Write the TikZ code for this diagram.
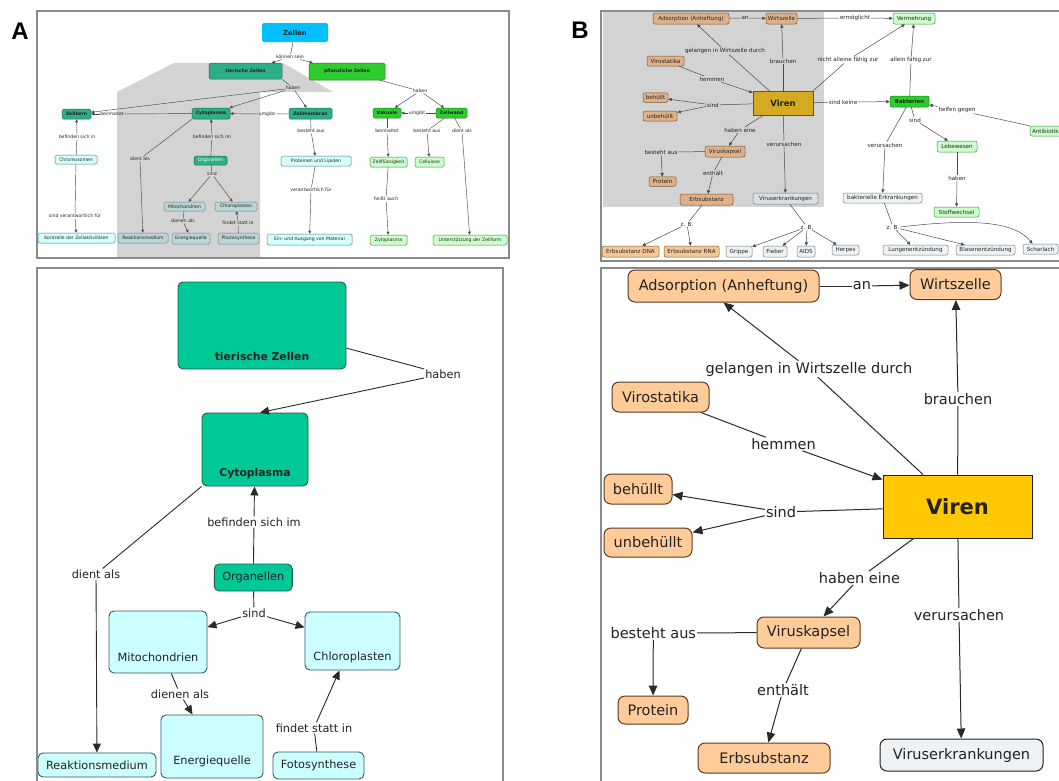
\documentclass[tikz,border=0pt]{standalone}
\usepackage{fontspec}
\setmainfont{DejaVu Sans}
\newfontfamily\panelfont{Liberation Sans}
\usetikzlibrary{arrows.meta}

% font sizes for the four maps
\newcommand\fA{\fontsize{4.6}{5.4}\selectfont}
\newcommand\fB{\fontsize{5.6}{6.6}\selectfont}
\newcommand\fC{\fontsize{11.3}{13.5}\selectfont}
\newcommand\fD{\fontsize{14.5}{17}\selectfont}

\definecolor{frame}{HTML}{8A8A8A}
\definecolor{greyzone}{HTML}{D3D3D3}
\definecolor{linkA}{HTML}{4A4A4A}
\definecolor{linkB}{HTML}{2A2A2A}
\definecolor{sky}{HTML}{00BFFF}
\definecolor{tealA}{HTML}{2EAE87}
\definecolor{tealAd}{HTML}{1E6A54}
\definecolor{greenA}{HTML}{2FCC2F}
\definecolor{greenAd}{HTML}{1C7A1C}
\definecolor{cyanA}{HTML}{D8FFFF}
\definecolor{cyanAd}{HTML}{3F8585}
\definecolor{cyanG}{HTML}{BCD4D5}
\definecolor{cyanGd}{HTML}{6A8888}
\definecolor{mintA}{HTML}{CCFFCC}
\definecolor{mintAd}{HTML}{3E8E3E}
\definecolor{tanG}{HTML}{DDB28B}
\definecolor{tanW}{HTML}{F7C797}
\definecolor{tanD}{HTML}{7A5232}
\definecolor{goldG}{HTML}{D6AA20}
\definecolor{goldGd}{HTML}{6E5612}
\definecolor{mist}{HTML}{EEF2F4}
\definecolor{mistG}{HTML}{D9DFE2}
\definecolor{mistD}{HTML}{6E7E86}
\definecolor{tealB}{HTML}{00C896}
\definecolor{tealBd}{HTML}{245A48}
\definecolor{cyanB}{HTML}{CCFFFF}
\definecolor{cyanBd}{HTML}{34595A}
\definecolor{peach}{HTML}{FFCC99}
\definecolor{peachD}{HTML}{5A3A22}
\definecolor{gold}{HTML}{FFC800}
\definecolor{ink}{HTML}{222222}

\tikzset{
  sz/.style 2 args={minimum width=#1pt, minimum height=#2pt},
  panel/.style={draw=frame, line width=1.3pt},
  % small map, cells
  cA/.style={inner sep=0pt, rounded corners=1.6pt, line width=0.5pt, font=\fA, text=ink},
  tA/.style={cA, fill=tealA, draw=tealAd, font=\fA\bfseries},
  gA/.style={cA, fill=greenA, draw=greenAd, font=\fA\bfseries},
  qA/.style={cA, fill=cyanA, draw=cyanAd},
  qG/.style={cA, fill=cyanG, draw=cyanGd},
  mA/.style={cA, fill=mintA, draw=mintAd},
  lA/.style={font=\fA, text=ink, inner sep=0.6pt},
  eA/.style={draw=linkA, line width=0.45pt},
  aA/.style={eA, -{Triangle[length=3pt,width=2.8pt]}},
  % small map, viruses
  cB/.style={inner sep=0pt, rounded corners=2pt, line width=0.5pt, font=\fB, text=ink},
  oG/.style={cB, fill=tanG, draw=tanD},
  oW/.style={cB, fill=tanW, draw=tanD},
  vG/.style={cB, fill=goldG, draw=goldGd, sharp corners, font=\fontsize{8.5}{10}\selectfont\bfseries},
  gB/.style={cB, fill=greenA, draw=greenAd, font=\fontsize{5.3}{6.3}\selectfont\bfseries},
  mB/.style={cB, fill=mintA, draw=mintAd},
  sG/.style={cB, fill=mistG, draw=mistD},
  sW/.style={cB, fill=mist, draw=mistD},
  lB/.style={font=\fB, text=ink, inner sep=0.7pt},
  eB/.style={draw=linkA, line width=0.5pt},
  aB/.style={eB, -{Triangle[length=3.4pt,width=3.2pt]}},
  % large map, cells
  cC/.style={inner sep=3pt, rounded corners=5pt, line width=0.9pt, font=\fC, text=ink},
  tC/.style={cC, fill=tealB, draw=tealBd},
  qC/.style={cC, fill=cyanB, draw=cyanBd},
  lC/.style={font=\fC, text=ink, inner sep=1pt},
  eC/.style={draw=linkB, line width=0.9pt},
  aC/.style={eC, -{Triangle[length=9pt,width=8pt]}},
  % large map, viruses
  cD/.style={inner sep=2pt, rounded corners=7pt, line width=1pt, font=\fD, text=ink},
  oD/.style={cD, fill=peach, draw=peachD},
  vD/.style={cD, fill=gold, draw=ink, sharp corners, font=\fontsize{21}{25}\selectfont\bfseries},
  sD/.style={cD, fill=mist, draw=ink},
  lD/.style={font=\fD, text=ink, inner sep=1pt},
  eD/.style={draw=linkB, line width=1pt},
  aD/.style={eD, -{Triangle[length=10pt,width=8.5pt]}},
}

\begin{document}
\begin{tikzpicture}[x=1pt,y=-1pt]
\useasboundingbox (0,0) rectangle (1059,780);
\clip (0,0) rectangle (1059,780);
\fill[white] (0,0) rectangle (1059,780);

% panel letters
\node[font=\panelfont\bfseries\fontsize{24}{28}\selectfont] (letA) at (20,31) {A};
\node[font=\panelfont\bfseries\fontsize{24}{28}\selectfont] (letB) at (580,30) {B};

% grey background zones
\fill[greyzone] (117,258) -- (117,92) -- (174,63) -- (283,63) -- (333,92) -- (260,92) -- (260,258) -- cycle;
\fill[greyzone] (603,11) rectangle (824,207);

%================ cells, overview =================
\node[cA, fill=sky, draw=none, font=\fontsize{6.8}{8}\selectfont\bfseries, sz={66}{19}] (zellen) at (295,32.5) {Zellen};
\node[tA, sz={73}{16}] (tier) at (245.5,71) {tierische Zellen};
\node[gA, sz={76}{17}] (pfl) at (347,71.5) {pflanzliche Zellen};
\node[tA, sz={29}{10}] (zkern) at (76.5,114) {Zellkern};
\node[tA, sz={38}{11}] (cyto) at (211,113.5) {Cytoplasma};
\node[tA, sz={43}{11}] (zmem) at (310.5,113.5) {Zellmembran};
\node[gA, sz={28}{10}] (vak) at (387,113) {Vakuole};
\node[gA, sz={31}{10}] (zwand) at (451.5,113) {Zellwand};
\node[qA, sz={42}{9}] (chromo) at (76,159.5) {Chromosomen};
\node[tA, font=\fA, text=white, sz={33}{9}] (organ) at (210.5,160.5) {Organellen};
\node[qA, sz={70}{10}] (prot) at (316,161) {Proteinen und Lipiden};
\node[mA, sz={37}{10}] (zfl) at (388.5,162) {Zellflüssigkeit};
\node[mA, sz={29}{10}] (cell) at (429.5,162) {Cellulose};
\node[qG, sz={41}{9}] (mito) at (184.5,206.5) {Mitochondrien};
\node[qG, sz={42}{9}] (chloro) at (236,206.5) {Chloroplasten};
\node[qA, sz={77}{10}] (kontr) at (76.5,238) {Kontrolle der Zellaktivitäten};
\node[qG, sz={50}{10}] (reakt) at (143,238) {Reaktionsmedium};
\node[qG, sz={38}{11}] (energ) at (191,238.5) {Energiequelle};
\node[qG, sz={41}{11}] (photo) at (238.5,238.5) {Photosynthese};
\node[qA, sz={85}{11}] (einaus) at (309.5,239.5) {Ein- und Ausgang von Material};
\node[mA, sz={37}{10}] (zyto) at (388.5,240) {Zytoplasma};
\node[mA, sz={74}{10}] (unterst) at (470,240) {Unterstützung der Zellform};

\node[lA] (ks) at (290,57) {können sein};
\node[lA] (hab1) at (293,88) {haben};
\node[lA] (beinh1) at (112,114) {beinhaltet};
\node[lA] (umg1) at (267,114) {umgibt};
\node[lA] (hab2) at (420,91) {haben};
\node[lA] (umg2) at (417,113) {umgibt};
\node[lA] (bsi) at (77,137) {befinden sich in};
\node[lA] (bsim) at (212,137) {befinden sich im};
\node[lA] (best1) at (311,131) {besteht aus};
\node[lA] (beinh2) at (387,131) {beinhaltet};
\node[lA] (best2) at (427,131) {besteht aus};
\node[lA] (dient2) at (462,131) {dient als};
\node[lA] (dient1) at (140,159) {dient als};
\node[lA] (sind1) at (212,174) {sind};
\node[lA] (verantw) at (75,216) {sind verantwortlich für};
\node[lA] (dienen1) at (183,221) {dienen als};
\node[lA] (findet1) at (238,223) {findet statt in};
\node[lA] (verantw2) at (311,190) {verantwortlich für};
\node[lA] (heisst) at (386,199) {heißt auch};

\draw[eA] (zellen) -- (ks);
\draw[aA] (ks) -- (tier);
\draw[aA] (ks) -- (pfl);
\draw[eA] (tier.south east) -- (hab1);
\draw[aA] (hab1) -- (zkern);
\draw[aA] (hab1) -- (cyto);
\draw[aA] (hab1) -- (zmem);
\draw[eA] (cyto) -- (beinh1);
\draw[aA] (beinh1) -- (zkern);
\draw[eA] (zmem) -- (umg1);
\draw[aA] (umg1) -- (cyto);
\draw[eA] (chromo) -- (bsi);
\draw[aA] (bsi) -- (zkern);
\draw[eA] (chromo) -- (verantw);
\draw[aA] (verantw) -- (kontr);
\draw[eA] (organ) -- (bsim);
\draw[aA] (bsim) -- (cyto);
\draw[eA] (cyto.south west) -- (dient1);
\draw[aA] (dient1) -- (reakt);
\draw[eA] (organ) -- (sind1);
\draw[aA] (sind1) -- (mito);
\draw[aA] (sind1) -- (chloro);
\draw[eA] (mito) -- (dienen1);
\draw[aA] (dienen1) -- (energ);
\draw[eA] (photo) -- (findet1);
\draw[aA] (findet1) -- (chloro);
\draw[eA] (zmem) -- (best1);
\draw[aA] (best1) -- (prot);
\draw[eA] (prot) -- (verantw2);
\draw[aA] (verantw2) -- (einaus);
\draw[eA] (pfl) -- (hab2);
\draw[aA] (hab2) -- (vak);
\draw[aA] (hab2) -- (zwand);
\draw[eA] (zwand) -- (umg2);
\draw[aA] (umg2) -- (vak);
\draw[eA] (vak) -- (beinh2);
\draw[aA] (beinh2) -- (zfl);
\draw[eA] (zfl) -- (heisst);
\draw[aA] (heisst) -- (zyto);
\draw[eA] (zwand) -- (best2);
\draw[aA] (best2) -- (cell);
\draw[eA] (zwand) -- (dient2);
\draw[aA] (dient2) -- (unterst);

%================ viruses, overview =================
\node[oG, sz={76}{11}] (adsT) at (691,18.5) {Adsorption (Anheftung)};
\node[oG, sz={31}{11}] (wirtT) at (781.5,18.5) {Wirtszelle};
\node[mB, sz={42}{11}] (vermT) at (914,18.5) {Vermehrung};
\node[oG, sz={37}{10}] (virostT) at (665.5,61) {Virostatika};
\node[vG, sz={60}{24}] (virenT) at (783,103) {Viren};
\node[gB, sz={39}{11}] (bakT) at (909.5,101.5) {Bakterien};
\node[mB, sz={48}{10}, text width=44pt, align=left] (antiT) at (1054,131) {Antibiotika};
\node[oG, sz={25}{9.5}] (behT) at (655.5,97.5) {behüllt};
\node[oG, sz={34}{10}] (unbehT) at (660,116) {unbehüllt};
\node[oG, sz={40}{11}] (kapselT) at (725,151.5) {Viruskapsel};
\node[oG, sz={27}{9.5}] (proteinT) at (662.5,181.5) {Protein};
\node[oG, sz={53}{11}] (erbT) at (706.5,199.5) {Erbsubstanz};
\node[sG, sz={65}{11}] (vkrankT) at (785.5,198.5) {Viruserkrankungen};
\node[mB, sz={40}{11}] (lebT) at (957,146.5) {Lebewesen};
\node[mB, sz={45}{10}] (stoffT) at (956.5,212) {Stoffwechsel};
\node[sW, sz={79}{10}] (bakErkT) at (882.5,198) {bakterielle Erkrankungen};
\node[oW, sz={57}{11}] (dnaT) at (630.5,251.5) {Erbsubstanz DNA};
\node[oW, sz={55}{11}] (rnaT) at (691.5,251.5) {Erbsubstanz RNA};
\node[sW, sz={26}{11}] (grippeT) at (739,251.5) {Grippe};
\node[sW, sz={24}{11}] (fieberT) at (775,251.5) {Fieber};
\node[sW, sz={18}{11}] (aidsT) at (806,251.5) {AIDS};
\node[sW, sz={27}{10}] (herpesT) at (845.5,250) {Herpes};
\node[sW, sz={65}{10}] (lungeT) at (915.5,250) {Lungenentzündung};
\node[sW, sz={59}{10}] (blaseT) at (985.5,250) {Blasenentzündung};
\node[sW, sz={35}{10}] (scharT) at (1040.5,249) {Scharlach};

\node[lB] (anT) at (745,18) {an};
\node[lB] (ermT) at (855,18) {ermöglicht};
\node[lB] (gelT) at (725,51) {gelangen in Wirtszelle durch};
\node[lB] (brauchT) at (783,61) {brauchen};
\node[lB] (nichtT) at (848,60) {nicht alleine fähig zur};
\node[lB] (alleinT) at (911,60) {allein fähig zur};
\node[lB] (hemmT) at (712,79) {hemmen};
\node[lB] (keineT) at (843,102) {sind keine};
\node[lB] (helfT) at (957,110) {helfen gegen};
\node[lB] (sindT) at (713,105) {sind};
\node[lB] (habeT) at (740,130) {haben eine};
\node[lB] (verT) at (784,144) {verursachen};
\node[lB] (bestT) at (661,152) {besteht aus};
\node[lB] (enthT) at (713,173) {enthält};
\node[lB] (zbT1) at (687,224) {z. B.};
\node[lB] (zbT2) at (807,227) {z. B.};
\node[lB] (ver2T) at (885,145) {verursachen};
\node[lB] (sind2T) at (915,120) {sind};
\node[lB] (hab3T) at (957,178) {haben};
\node[lB] (zbT3) at (893,227) {z. B.};

\draw[eB] (adsT) -- (anT);
\draw[aB] (anT) -- (wirtT);
\draw[eB] (wirtT) -- (ermT);
\draw[aB] (ermT) -- (vermT);
\draw[eB] (virenT) -- (gelT);
\draw[aB] (gelT) -- (adsT);
\draw[eB] (virenT) -- (brauchT);
\draw[aB] (brauchT) -- (wirtT);
\draw[eB] (virenT.north east) -- (nichtT);
\draw[aB] (nichtT) -- (vermT);
\draw[eB] (bakT) -- (alleinT);
\draw[aB] (alleinT) -- (vermT);
\draw[eB] (virostT) -- (hemmT);
\draw[aB] (hemmT) -- (virenT);
\draw[eB] (virenT) -- (sindT);
\draw[aB] (sindT) -- (behT);
\draw[aB] (sindT) -- (unbehT);
\draw[eB] (virenT) -- (keineT);
\draw[aB] (keineT) -- (bakT);
\draw[eB] (antiT) -- (helfT);
\draw[aB] (helfT) -- (bakT);
\draw[eB] (virenT) -- (habeT);
\draw[aB] (habeT) -- (kapselT);
\draw[eB] (virenT) -- (verT);
\draw[aB] (verT) -- (vkrankT);
\draw[eB] (kapselT) -- (bestT);
\draw[aB] (bestT) -- (proteinT);
\draw[eB] (kapselT) -- (enthT);
\draw[aB] (enthT) -- (erbT);
\draw[eB] (erbT) -- (zbT1);
\draw[aB] (zbT1) -- (dnaT);
\draw[aB] (zbT1) -- (rnaT);
\draw[eB] (vkrankT) -- (zbT2);
\draw[aB] (zbT2) -- (grippeT);
\draw[aB] (zbT2) -- (fieberT);
\draw[aB] (zbT2) -- (aidsT);
\draw[aB] (zbT2) -- (herpesT);
\draw[eB] (bakT) -- (ver2T);
\draw[aB] (ver2T) -- (bakErkT);
\draw[eB] (bakT) -- (sind2T);
\draw[aB] (sind2T) -- (lebT);
\draw[eB] (lebT) -- (hab3T);
\draw[aB] (hab3T) -- (stoffT);
\draw[eB] (bakErkT) -- (zbT3);
\draw[aB] (zbT3) -- (lungeT);
\draw[aB] (zbT3) -- (blaseT);
\draw[aB] (zbT3.east) .. controls (975,218) and (1015,222) .. ([xshift=-8pt]scharT.north);

%================ cells, detail =================
\node[tC, font=\fontsize{10.8}{13}\selectfont\bfseries, sz={168}{87}, text height=72pt, text depth=3pt] (tzB) at (262,325.5) {tierische Zellen};
\node[tC, font=\fontsize{10.8}{13}\selectfont\bfseries, sz={106}{73}, text height=56pt, text depth=3pt] (cytoB) at (255,449.5) {Cytoplasma};
\node[tC, sz={78}{27}] (orgB) at (253.3,577.5) {Organellen};
\node[qC, sz={98}{62}, text height=42pt, text depth=3pt] (mitoB) at (158,642) {Mitochondrien};
\node[qC, sz={95}{58}, text height=41pt, text depth=3pt] (chloroB) at (352.5,641) {Chloroplasten};
\node[qC, sz={102}{63}, text height=39pt, text depth=3pt] (energB) at (212,746.5) {Energiequelle};
\node[qC, sz={91}{27}] (fotoB) at (318.5,765.5) {Fotosynthese};
\node[qC, sz={118}{24}] (reaktB) at (97,765) {Reaktionsmedium};

\node[lC] (habB) at (443,374) {haben};
\node[lC] (befB) at (254,522) {befinden sich im};
\node[lC] (dientB) at (96,574) {dient als};
\node[lC] (sindC) at (254,613) {sind};
\node[lC] (dienenB) at (180,694) {dienen als};
\node[lC] (findetB) at (314,728) {findet statt in};

\draw[eC] (tzB) -- (habB);
\draw[aC] (habB) -- ([xshift=5pt]cytoB.north);
\draw[eC] (orgB) -- (befB);
\draw[aC] (befB) -- (cytoB);
\draw[eC] (cytoB.south west) -- (dientB);
\draw[aC] (dientB) -- (reaktB);
\draw[eC] (orgB) -- (sindC);
\draw[aC] (sindC) -- (mitoB);
\draw[aC] (sindC) -- (chloroB);
\draw[eC] (mitoB) -- (dienenB);
\draw[aC] (dienenB) -- (energB);
\draw[eC] (fotoB) -- (findetB);
\draw[aC] (findetB) -- (chloroB);

%================ viruses, detail =================
\node[oD, sz={191}{32}] (adsB) at (723.5,286) {Adsorption (Anheftung)};
\node[oD, sz={91}{30}] (wirtB) at (955.5,284.5) {Wirtszelle};
\node[oD, sz={97}{30}] (virostB) at (660.5,397) {Virostatika};
\node[vD, sz={149}{63}] (virenB) at (957.5,506.5) {Viren};
\node[oD, sz={68}{30}] (behB) at (638,489) {behüllt};
\node[oD, sz={88}{29}] (unbehB) at (648,542.5) {unbehüllt};
\node[oD, sz={103}{31}] (kapselB) at (808.5,632.5) {Viruskapsel};
\node[oD, sz={70}{28}] (proteinB) at (653,710) {Protein};
\node[oD, sz={132}{30}] (erbB) at (764,758) {Erbsubstanz};
\node[sD, sz={163}{32}] (vkrankB) at (961.5,755) {Viruserkrankungen};

\node[lD] (anB) at (862,286) {an};
\node[lD] (gelB) at (809,369) {gelangen in Wirtszelle durch};
\node[lD] (brauchB) at (958,399) {brauchen};
\node[lD] (hemmB) at (783.5,444) {hemmen};
\node[lD] (sindD) at (781,512) {sind};
\node[lD] (habeB) at (859.5,578) {haben eine};
\node[lD] (verB) at (959,615) {verursachen};
\node[lD] (bestB) at (653.3,633) {besteht aus};
\node[lD] (enthB) at (783,690) {enthält};

\draw[eD] (adsB) -- (anB);
\draw[aD] (anB) -- (wirtB);
\draw[eD] (virenB) -- (gelB);
\draw[aD] (gelB) -- (adsB.south);
\draw[eD] (virenB) -- (brauchB);
\draw[aD] (brauchB) -- (wirtB);
\draw[eD] (virostB) -- (hemmB);
\draw[aD] (hemmB) -- (virenB);
\draw[eD] (virenB) -- (sindD);
\draw[aD] (sindD) -- (behB);
\draw[aD] (sindD) -- (unbehB);
\draw[eD] (virenB) -- (habeB);
\draw[aD] (habeB) -- (kapselB);
\draw[eD] (virenB) -- (verB);
\draw[aD] (verB) -- (vkrankB);
\draw[eD] (kapselB) -- (bestB);
\draw[aD] (bestB) -- (proteinB);
\draw[eD] (kapselB) -- (enthB);
\draw[aD] (enthB) -- (erbB);

% panel frames
\draw[panel] (37,11) rectangle (509,258);
\draw[panel] (37,268) rectangle (503,795);
\draw[panel] (601,11) rectangle (1075,261);
\draw[panel] (601,268) rectangle (1075,795);
\end{tikzpicture}
\end{document}
